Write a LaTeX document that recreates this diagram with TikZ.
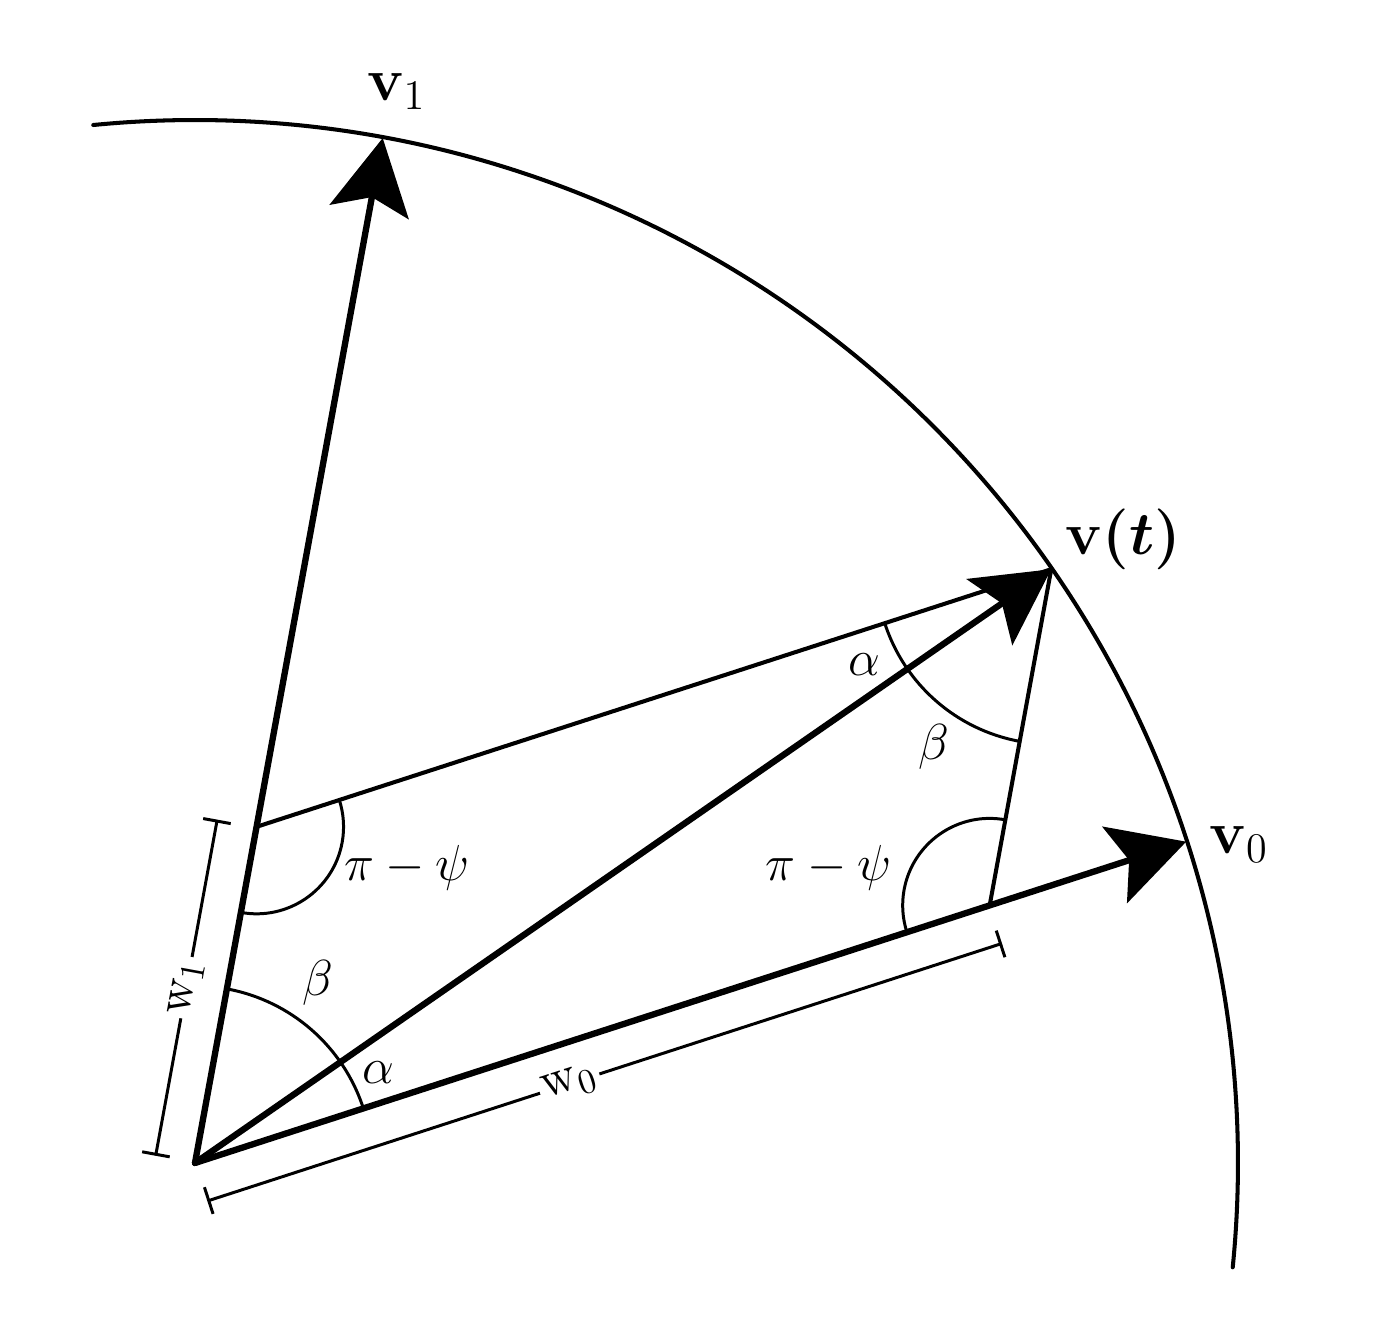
\documentclass[tikz,border=0pt]{standalone}
\usepackage{amsmath,amssymb}
\usetikzlibrary{arrows.meta,calc}

\begin{document}
\begin{tikzpicture}[cap=round,>={Stealth[length=7.5mm,width=8mm,inset=1.5mm]},
        vec/.style={line width=1.8pt,->},
        side/.style={line width=1.15pt},
        angarc/.style={line width=0.85pt},
        dimline/.style={line width=0.85pt,{Bar[width=2.8mm]}-{Bar[width=2.8mm]}},
        lbl/.style={font=\Large,inner sep=1pt},
        vlbl/.style={font=\LARGE,inner sep=1pt}]
        \useasboundingbox (-1.95,-1.59) rectangle (11.81,11.63);

        % radius and the angles of v0, v1 and v(t)
        \def\rad{10.42}
        \def\angzero{17.96}
        \def\angone{79.62}
        \def\angt{34.74}

        % the points
        \coordinate (O) at (0,0);
        \coordinate (v0) at (\angzero:\rad);
        \coordinate (v1) at (\angone:\rad);
        \coordinate (vt) at (\angt:\rad);
        \coordinate (A) at (\angone:{\rad*sin(\angt-\angzero)/sin(\angone-\angzero)});
        \coordinate (B) at (\angzero:{\rad*sin(\angone-\angt)/sin(\angone-\angzero)});

        % draw the unit circle
        \draw[line width=1.15pt] (95.6:10.43) arc[start angle=95.6, end angle=-5.74, radius=10.43];

        % the parallelogram
        \draw[side] (A) -- (vt);
        \draw[side] (B) -- (vt);

        % angle at the origin
        \draw[angarc] ($(O)+(\angzero:1.77)$) arc[start angle=\angzero, end angle=\angone, radius=1.77];
        % angle at v(t)
        \draw[angarc] ($(vt)+(180+\angzero:1.75)$) arc[start angle=180+\angzero, end angle=180+\angone, radius=1.75];
        % the two angles pi - psi
        \draw[angarc] ($(A)+(\angone-180:0.87)$) arc[start angle=\angone-180, end angle=\angzero, radius=0.87];
        \draw[angarc] ($(B)+(\angone:0.87)$) arc[start angle=\angone, end angle=180+\angzero, radius=0.87];

        % the vectors
        \foreach \p in {v1,v0,vt}
                \draw[vec] (O) -- (\p);

        % the lengths w0 and w1
        \draw[dimline] ($(O)!4mm!90:(A)$) -- ($(A)!4mm!-90:(O)$)
                node[lbl,pos=0.5,sloped,fill=white] (lw1) {$\mathrm{w}_1$};
        \draw[dimline] ($(O)!4mm!-90:(B)$) -- ($(B)!4mm!90:(O)$)
                node[lbl,pos=0.456,sloped,fill=white] (lw0) {$\mathrm{w}_0$};

        % names of the vectors
        \node[vlbl] (lv1) at ($(v1)+(0.14,0.47)$) {$\mathbf{v}_1$};
        \node[vlbl] (lvt) at ($(vt)+(0.72,0.30)$) {$\mathbf{v}\boldsymbol{(t)}$};
        \node[vlbl] (lv0) at ($(v0)+(0.53,-0.03)$) {$\mathbf{v}_0$};

        % names of the angles
        \node[lbl] (bO) at ($(O)+(55.6:2.18)$) {$\beta$};
        \node[lbl] (aO) at ($(O)+(26.2:2.04)$) {$\alpha$};
        \node[lbl] (at) at ($(vt)+(206.9:2.10)$) {$\alpha$};
        \node[lbl] (bt) at ($(vt)+(236.7:2.13)$) {$\beta$};
        \node[lbl] (pA) at ($(A)+(-15.2:1.56)$) {$\pi-\psi$};
        \node[lbl] (pB) at ($(B)+(167:1.65)$) {$\pi-\psi$};
\end{tikzpicture}
\end{document}
